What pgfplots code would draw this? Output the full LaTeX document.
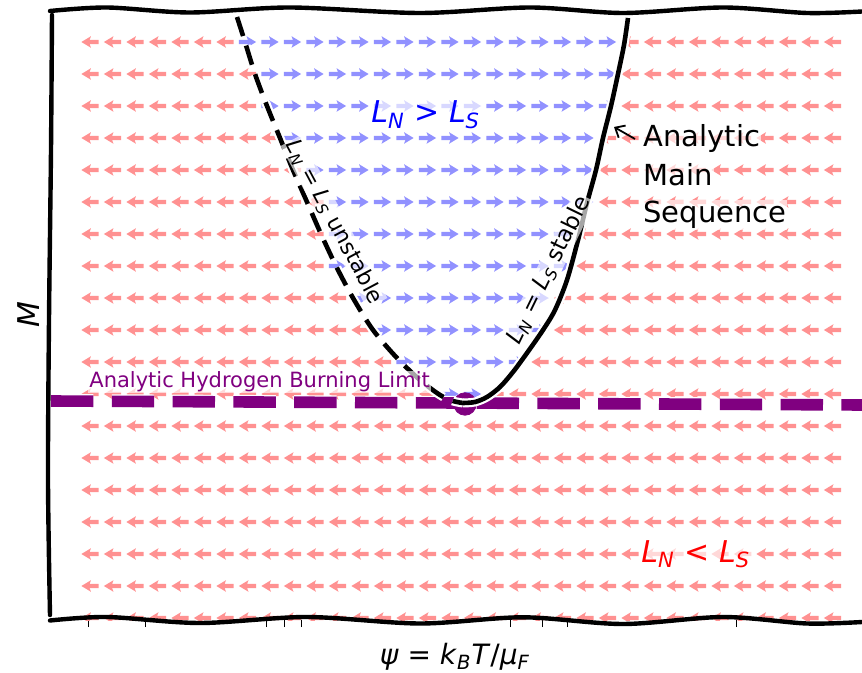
\documentclass[border=0pt]{standalone}
\usepackage{fontspec}
\setmainfont{DejaVu Sans}
\usepackage{pgfplots}
\usepackage{pgfplotstable}
\pgfplotsset{compat=1.18}
\usetikzlibrary{arrows.meta}
\definecolor{mplpurple}{RGB}{128,0,128}
\definecolor{arrowred}{RGB}{255,145,145}
\definecolor{arrowblue}{RGB}{145,145,255}
\newcommand{\vL}[1]{\textit{L}\textsubscript{\textit{#1}}}

% quiver-like arrow marks, centred on the grid point
\pgfdeclareplotmark{arrowR}{%
  \pgfpathmoveto{\pgfpoint{-4.3pt}{-1.05pt}}
  \pgfpathlineto{\pgfpoint{0.2pt}{-1.05pt}}
  \pgfpathlineto{\pgfpoint{-0.5pt}{-2.9pt}}
  \pgfpathlineto{\pgfpoint{4.3pt}{0pt}}
  \pgfpathlineto{\pgfpoint{-0.5pt}{2.9pt}}
  \pgfpathlineto{\pgfpoint{0.2pt}{1.05pt}}
  \pgfpathlineto{\pgfpoint{-4.3pt}{1.05pt}}
  \pgfpathclose\pgfusepathqfill}
\pgfdeclareplotmark{arrowL}{%
  \pgfpathmoveto{\pgfpoint{4.3pt}{-1.05pt}}
  \pgfpathlineto{\pgfpoint{-0.2pt}{-1.05pt}}
  \pgfpathlineto{\pgfpoint{0.5pt}{-2.9pt}}
  \pgfpathlineto{\pgfpoint{-4.3pt}{0pt}}
  \pgfpathlineto{\pgfpoint{0.5pt}{2.9pt}}
  \pgfpathlineto{\pgfpoint{-0.2pt}{1.05pt}}
  \pgfpathlineto{\pgfpoint{4.3pt}{1.05pt}}
  \pgfpathclose\pgfusepathqfill}

% direction of the flow at each grid point: -1 = left (L_N < L_S), 1 = right
\pgfplotstableread{
x     r10 r42 r74 r106 r138 r170 r202 r234 r266 r298 r330 r362 r394 low
90    -1  -1  -1  -1   -1   -1   -1   -1   -1   -1   -1   -1   -1   -1
112.5 -1  -1  -1  -1   -1   -1   -1   -1   -1   -1   -1   -1   -1   -1
135   -1  -1  -1  -1   -1   -1   -1   -1   -1   -1   -1   -1   -1   -1
157.5 -1  -1  -1  -1   -1   -1   -1   -1   -1   -1   -1   -1   -1   -1
180   -1  -1  -1  -1   -1   -1   -1   -1   -1   -1   -1   -1   -1   -1
202.5 -1  -1  -1  -1   -1   -1   -1   -1   -1   -1   -1   -1   -1   -1
225   -1  -1  -1  -1   -1   -1   -1   -1   -1   -1   -1   -1   -1   -1
247.5  1   1  -1  -1   -1   -1   -1   -1   -1   -1   -1   -1   -1   -1
270    1   1   1   1   -1   -1   -1   -1   -1   -1   -1   -1   -1   -1
292.5  1   1   1   1    1   -1   -1   -1   -1   -1   -1   -1   -1   -1
315    1   1   1   1    1    1   -1   -1   -1   -1   -1   -1   -1   -1
337.5  1   1   1   1    1    1    1    1    1   -1   -1   -1   -1   -1
360    1   1   1   1    1    1    1    1    1    1   -1   -1   -1   -1
382.5  1   1   1   1    1    1    1    1    1    1    1   -1   -1   -1
405    1   1   1   1    1    1    1    1    1    1    1    1   -1   -1
427.5  1   1   1   1    1    1    1    1    1    1    1    1   -1   -1
450    1   1   1   1    1    1    1    1    1    1    1    1    1   -1
472.5  1   1   1   1    1    1    1    1    1    1    1    1    1   -1
495    1   1   1   1    1    1    1    1    1    1    1    1   -1   -1
517.5  1   1   1   1    1    1    1    1    1    1    1    1   -1   -1
540    1   1   1   1    1    1    1    1    1    1    1   -1   -1   -1
562.5  1   1   1   1    1    1    1    1    1   -1   -1   -1   -1   -1
585    1   1   1   1    1    1    1   -1   -1   -1   -1   -1   -1   -1
607.5  1   1   1   1   -1   -1   -1   -1   -1   -1   -1   -1   -1   -1
630   -1  -1  -1  -1   -1   -1   -1   -1   -1   -1   -1   -1   -1   -1
652.5 -1  -1  -1  -1   -1   -1   -1   -1   -1   -1   -1   -1   -1   -1
675   -1  -1  -1  -1   -1   -1   -1   -1   -1   -1   -1   -1   -1   -1
697.5 -1  -1  -1  -1   -1   -1   -1   -1   -1   -1   -1   -1   -1   -1
720   -1  -1  -1  -1   -1   -1   -1   -1   -1   -1   -1   -1   -1   -1
742.5 -1  -1  -1  -1   -1   -1   -1   -1   -1   -1   -1   -1   -1   -1
765   -1  -1  -1  -1   -1   -1   -1   -1   -1   -1   -1   -1   -1   -1
787.5 -1  -1  -1  -1   -1   -1   -1   -1   -1   -1   -1   -1   -1   -1
810   -1  -1  -1  -1   -1   -1   -1   -1   -1   -1   -1   -1   -1   -1
832.5 -1  -1  -1  -1   -1   -1   -1   -1   -1   -1   -1   -1   -1   -1
}\field

% one row of the field: red arrows to the left, blue arrows to the right
\newcommand{\arrowrow}[2]{%
  \addplot[only marks, mark=arrowL, color=arrowred]
    table[x=x, y expr=#2, restrict expr to domain={\thisrow{#1}}{-1.5:-0.5}] {\field};
  \addplot[only marks, mark=arrowR, color=arrowblue]
    table[x=x, y expr=#2, restrict expr to domain={\thisrow{#1}}{0.5:1.5}] {\field};}

\begin{document}
\begin{tikzpicture}
\begin{axis}[
  width=406pt, height=304pt, scale only axis,
  xmin=50, xmax=862, ymin=12, ymax=620,
  y dir=reverse,
  clip mode=individual,
  clip marker paths=true,
  axis line style={draw=none},
  xtick={89,146,266,284,301,510,542,567,736},
  xticklabels={},
  ytick=\empty,
  xtick pos=left,
  tick align=outside,
  major tick length=3.5pt,
  tick style={black, line width=0.5pt},
  xlabel={\textit{ψ} = \textit{k}\textsubscript{\textit{B}}\textit{T}/\textit{μ}\textsubscript{\textit{F}}},
  xlabel style={at={(axis cs:455,657)}, anchor=center, font=\fontsize{14}{16}\selectfont},
  ylabel={\textit{M}},
  ylabel style={at={(axis cs:29,315)}, anchor=center, font=\fontsize{15}{17}\selectfont},
]

% flow field
\arrowrow{r10}{10}
\arrowrow{r42}{42}
\arrowrow{r74}{74}
\arrowrow{r106}{106}
\arrowrow{r138}{138}
\arrowrow{r170}{170}
\arrowrow{r202}{202}
\arrowrow{r234}{234}
\arrowrow{r266}{266}
\arrowrow{r298}{298}
\arrowrow{r330}{330}
\arrowrow{r362}{362}
\arrowrow{r394}{394}
\arrowrow{low}{426}
\arrowrow{low}{458}
\arrowrow{low}{490}
\arrowrow{low}{522}
\arrowrow{low}{554}
\arrowrow{low}{586}
\arrowrow{low}{618}

% hydrogen burning limit
\addplot[white, line width=7pt, dash pattern=on 21.2pt off 9.2pt] coordinates {(51,401) (862,405)};
\addplot[mplpurple, line width=5.8pt, dash pattern=on 21.2pt off 9.2pt] coordinates {(51,401) (862,405)};
\addplot[only marks, mark=*, mark size=5.6pt, mplpurple] coordinates {(465,404)};

% L_N = L_S, unstable branch
\addplot[white, line width=4.5pt, smooth, dash pattern=on 10pt off 5pt] coordinates {
(237,17) (245,42) (255,74) (267,106) (280,138) (293,170) (307,202) (321,234)
(336,266) (353,298) (373,330) (397,358) (420,380) (440,395) (453,401) (463,403)};
\addplot[black, line width=2.3pt, smooth, dash pattern=on 10pt off 5pt] coordinates {
(237,17) (245,42) (255,74) (267,106) (280,138) (293,170) (307,202) (321,234)
(336,266) (353,298) (373,330) (397,358) (420,380) (440,395) (453,401) (463,403)};

% L_N = L_S, stable branch
\addplot[white, line width=4.5pt, smooth] coordinates {
(463,403) (475,402) (487,397) (500,387) (513,372) (527,353) (543,330) (555,310)
(567,280) (578,240) (587,203) (596,170) (603,138) (611,106) (618,74) (624,45) (628,18)};
\addplot[black, line width=2.3pt, smooth] coordinates {
(463,403) (475,402) (487,397) (500,387) (513,372) (527,353) (543,330) (555,310)
(567,280) (578,240) (587,203) (596,170) (603,138) (611,106) (618,74) (624,45) (628,18)};

% hand-drawn frame
\draw[line width=2.2pt, line cap=round] plot[smooth] coordinates {
(50,11) (107,7.5) (190,12.5) (290,7.5) (420,13) (530,7.5) (623,13) (723,7.5) (807,13) (862,11.5)};
\draw[line width=2.2pt, line cap=round] plot[smooth] coordinates {
(52,15) (51,150) (49,320) (48,480) (50,615)};
\draw[line width=2.2pt, line cap=round] plot[smooth] coordinates {
(50,620.5) (107,617) (200,623) (307,617) (420,623.5) (523,617.3) (623,624) (723,617) (807,623.5) (862,622)};

% annotations
\tikzset{halo/.style={fill=white, fill opacity=0.65, text opacity=1, inner sep=0.5pt}}
\node[halo, anchor=base west, text=mplpurple, font=\fontsize{10.5}{12}\selectfont] at (88,388) {Analytic Hydrogen Burning Limit};
\node[halo, anchor=base west, text=blue, font=\fontsize{15}{18}\selectfont] at (370,123) {\vL{N} > \vL{S}};
\node[halo, anchor=base west, text=red, font=\fontsize{15}{18}\selectfont] at (640,562) {\vL{N} < \vL{S}};
\node[halo, rotate=-62, font=\fontsize{11}{13}\selectfont] at (334,222) {\vL{N} = \vL{S} unstable};
\node[halo, rotate=64, font=\fontsize{11.5}{13}\selectfont] at (549,270) {\vL{N} = \vL{S} stable};
\node[halo, anchor=base west, font=\fontsize{14.5}{16}\selectfont] at (642,147) {Analytic};
\node[halo, anchor=base west, font=\fontsize{14.5}{16}\selectfont] at (642,186) {Main};
\node[halo, anchor=base west, font=\fontsize{14.5}{16}\selectfont] at (642,223) {Sequence};
\draw[line width=0.9pt, -{Straight Barb[length=4pt,width=7pt]}] (635,139) -- (614,127);

\coordinate (bbA) at (0,0);
\coordinate (bbB) at (862,673);
\end{axis}
\pgfresetboundingbox
\path[use as bounding box] (bbA) rectangle (bbB);
\end{tikzpicture}
\end{document}
